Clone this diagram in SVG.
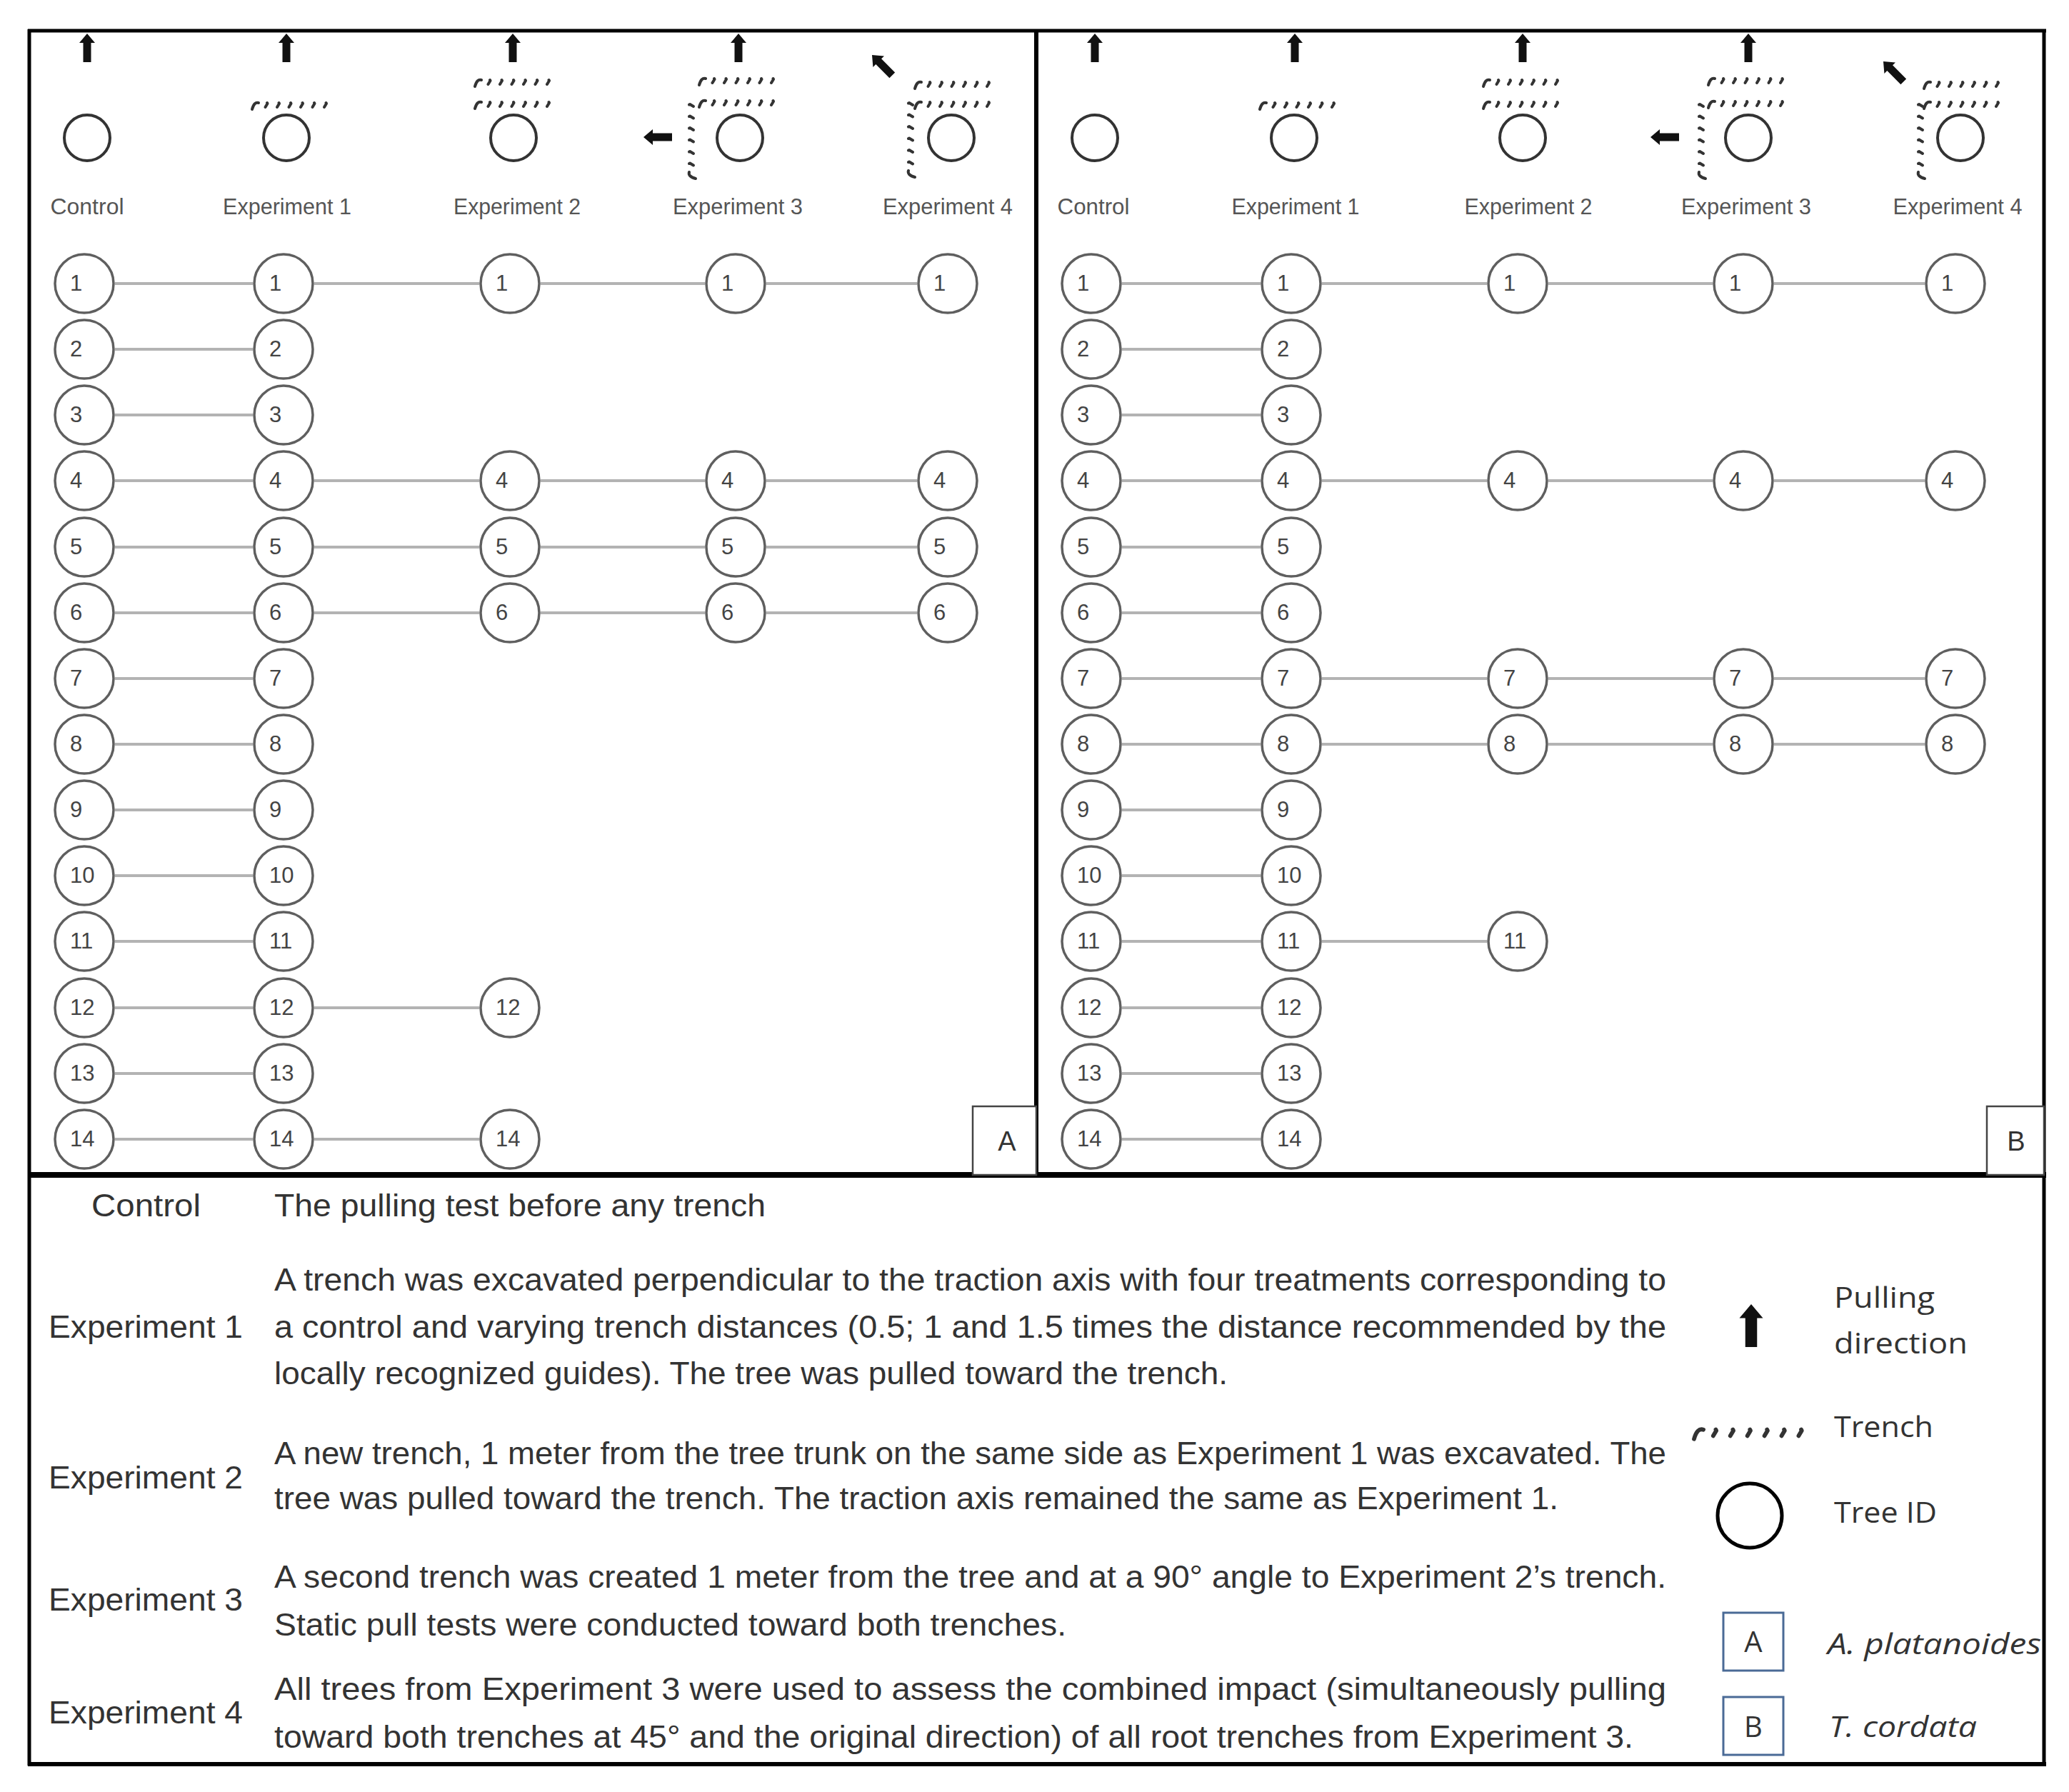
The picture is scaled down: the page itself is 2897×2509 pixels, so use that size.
<svg xmlns="http://www.w3.org/2000/svg" xmlns:xlink="http://www.w3.org/1999/xlink" width="2897" height="2509" viewBox="0 0 2897 2509">
<style>
.node circle{fill:#fff;stroke:#5f5f5f;stroke-width:3.5}
.node text{font-family:"Liberation Sans",Arial,sans-serif;font-size:31px;fill:#444}
.conn line{stroke:#b3b3b3;stroke-width:4}
.hc{fill:none;stroke:#333;stroke-width:4}
.hl{font-family:"Liberation Sans",Arial,sans-serif;font-size:31px;fill:#555;text-anchor:middle}
.lt{font-family:"Liberation Sans",Arial,sans-serif;font-size:45px;fill:#333}
.rt{font-family:"Open Sans","Liberation Sans",sans-serif;font-size:40px;fill:#333}
.frame{stroke:#000;fill:none}
.tr{fill:none;stroke:#333;stroke-width:4;stroke-linecap:round;stroke-linejoin:round}
</style>
<defs>
<path id="arr" d="M0,0 L11,13 L5.5,13 L5.5,40 L-5.5,40 L-5.5,13 L-11,13 Z" fill="#111"/>
<path id="trench" class="tr" d="M0,6 Q3,-5 9,-3 M21,-3 l0.5,1 l-3,5 M37.5,-3 l0.5,1 l-3,5 M54,-3 l0.5,1 l-3,5 M70.5,-3 l0.5,1 l-3,5 M87,-3 l0.5,1 l-3,5 M103.5,-3 l0.5,1 l-3,5"/>
</defs>
<rect x="0" y="0" width="2897" height="2509" fill="#fff"/>

<!-- Frames -->
<g id="frames">
<line class="frame" x1="39" y1="43" x2="2865" y2="43" stroke-width="5"/>
<line class="frame" x1="41" y1="41" x2="41" y2="2472" stroke-width="5"/>
<line class="frame" x1="2862" y1="41" x2="2862" y2="2472" stroke-width="5"/>
<line class="frame" x1="39" y1="2470" x2="2865" y2="2470" stroke-width="6"/>
<line class="frame" x1="1451" y1="43" x2="1451" y2="1645" stroke-width="6"/>
<line class="frame" x1="39" y1="1645" x2="2865" y2="1645" stroke-width="8"/>
</g>

<!-- Panel A header -->
<g id="A-header">
<use xlink:href="#arr" transform="translate(122,47)"/>
<use xlink:href="#arr" transform="translate(401,47)"/>
<use xlink:href="#arr" transform="translate(718,47)"/>
<use xlink:href="#arr" transform="translate(1034,47)"/>
<use xlink:href="#arr" transform="translate(901,192) rotate(-90)"/>
<use xlink:href="#arr" transform="translate(1221,77) rotate(-45)"/>
<circle class="hc" cx="122" cy="193" r="32"/>
<circle class="hc" cx="401" cy="193" r="32"/>
<circle class="hc" cx="719" cy="193" r="32"/>
<circle class="hc" cx="1036" cy="193" r="32"/>
<circle class="hc" cx="1332" cy="193" r="32"/>
<use xlink:href="#trench" transform="translate(353,147)"/>
<use xlink:href="#trench" transform="translate(665,115)"/>
<use xlink:href="#trench" transform="translate(665,146)"/>
<use xlink:href="#trench" transform="translate(979,113)"/>
<use xlink:href="#trench" transform="translate(979,144)"/>
<use xlink:href="#trench" transform="translate(968,250) rotate(-90)"/>
<use xlink:href="#trench" transform="translate(1281,118)"/>
<use xlink:href="#trench" transform="translate(1281,146)"/>
<use xlink:href="#trench" transform="translate(1275,248) rotate(-90)"/>
<text class="hl" x="122" y="300" textLength="103" lengthAdjust="spacingAndGlyphs">Control</text>
<text class="hl" x="402" y="300" textLength="180" lengthAdjust="spacingAndGlyphs">Experiment 1</text>
<text class="hl" x="724" y="300" textLength="178" lengthAdjust="spacingAndGlyphs">Experiment 2</text>
<text class="hl" x="1033" y="300" textLength="182" lengthAdjust="spacingAndGlyphs">Experiment 3</text>
<text class="hl" x="1327" y="300" textLength="182" lengthAdjust="spacingAndGlyphs">Experiment 4</text>
</g>

<!-- Panel B header -->
<g id="B-header">
<use xlink:href="#arr" transform="translate(1533,47)"/>
<use xlink:href="#arr" transform="translate(1813,47)"/>
<use xlink:href="#arr" transform="translate(2132,47)"/>
<use xlink:href="#arr" transform="translate(2448,47)"/>
<use xlink:href="#arr" transform="translate(2311,192) rotate(-90)"/>
<use xlink:href="#arr" transform="translate(2637,86) rotate(-45)"/>
<circle class="hc" cx="1533" cy="193" r="32"/>
<circle class="hc" cx="1812" cy="193" r="32"/>
<circle class="hc" cx="2132" cy="193" r="32"/>
<circle class="hc" cx="2448" cy="193" r="32"/>
<circle class="hc" cx="2745" cy="193" r="32"/>
<use xlink:href="#trench" transform="translate(1764,147)"/>
<use xlink:href="#trench" transform="translate(2077,115)"/>
<use xlink:href="#trench" transform="translate(2077,146)"/>
<use xlink:href="#trench" transform="translate(2392,113)"/>
<use xlink:href="#trench" transform="translate(2392,145)"/>
<use xlink:href="#trench" transform="translate(2382,250) rotate(-90)"/>
<use xlink:href="#trench" transform="translate(2694,118)"/>
<use xlink:href="#trench" transform="translate(2694,146)"/>
<use xlink:href="#trench" transform="translate(2689,250) rotate(-90)"/>
<text class="hl" x="1531" y="300" textLength="101" lengthAdjust="spacingAndGlyphs">Control</text>
<text class="hl" x="1814" y="300" textLength="179" lengthAdjust="spacingAndGlyphs">Experiment 1</text>
<text class="hl" x="2140" y="300" textLength="179" lengthAdjust="spacingAndGlyphs">Experiment 2</text>
<text class="hl" x="2445" y="300" textLength="182" lengthAdjust="spacingAndGlyphs">Experiment 3</text>
<text class="hl" x="2741" y="300" textLength="181" lengthAdjust="spacingAndGlyphs">Experiment 4</text>
</g>

<!-- Connectors -->
<g id="connectors" class="conn">
<line x1="161" y1="397" x2="354" y2="397"/><line x1="440" y1="397" x2="671" y2="397"/><line x1="757" y1="397" x2="987" y2="397"/><line x1="1073" y1="397" x2="1284" y2="397"/>
<line x1="161" y1="489" x2="354" y2="489"/>
<line x1="161" y1="581" x2="354" y2="581"/>
<line x1="161" y1="673" x2="354" y2="673"/><line x1="440" y1="673" x2="671" y2="673"/><line x1="757" y1="673" x2="987" y2="673"/><line x1="1073" y1="673" x2="1284" y2="673"/>
<line x1="161" y1="766" x2="354" y2="766"/><line x1="440" y1="766" x2="671" y2="766"/><line x1="757" y1="766" x2="987" y2="766"/><line x1="1073" y1="766" x2="1284" y2="766"/>
<line x1="161" y1="858" x2="354" y2="858"/><line x1="440" y1="858" x2="671" y2="858"/><line x1="757" y1="858" x2="987" y2="858"/><line x1="1073" y1="858" x2="1284" y2="858"/>
<line x1="161" y1="950" x2="354" y2="950"/>
<line x1="161" y1="1042" x2="354" y2="1042"/>
<line x1="161" y1="1134" x2="354" y2="1134"/>
<line x1="161" y1="1226" x2="354" y2="1226"/>
<line x1="161" y1="1318" x2="354" y2="1318"/>
<line x1="161" y1="1411" x2="354" y2="1411"/><line x1="440" y1="1411" x2="671" y2="1411"/>
<line x1="161" y1="1503" x2="354" y2="1503"/>
<line x1="161" y1="1595" x2="354" y2="1595"/><line x1="440" y1="1595" x2="671" y2="1595"/>

<line x1="1571" y1="397" x2="1765" y2="397"/><line x1="1851" y1="397" x2="2082" y2="397"/><line x1="2168" y1="397" x2="2398" y2="397"/><line x1="2484" y1="397" x2="2695" y2="397"/>
<line x1="1571" y1="489" x2="1765" y2="489"/>
<line x1="1571" y1="581" x2="1765" y2="581"/>
<line x1="1571" y1="673" x2="1765" y2="673"/><line x1="1851" y1="673" x2="2082" y2="673"/><line x1="2168" y1="673" x2="2398" y2="673"/><line x1="2484" y1="673" x2="2695" y2="673"/>
<line x1="1571" y1="766" x2="1765" y2="766"/>
<line x1="1571" y1="858" x2="1765" y2="858"/>
<line x1="1571" y1="950" x2="1765" y2="950"/><line x1="1851" y1="950" x2="2082" y2="950"/><line x1="2168" y1="950" x2="2398" y2="950"/><line x1="2484" y1="950" x2="2695" y2="950"/>
<line x1="1571" y1="1042" x2="1765" y2="1042"/><line x1="1851" y1="1042" x2="2082" y2="1042"/><line x1="2168" y1="1042" x2="2398" y2="1042"/><line x1="2484" y1="1042" x2="2695" y2="1042"/>
<line x1="1571" y1="1134" x2="1765" y2="1134"/>
<line x1="1571" y1="1226" x2="1765" y2="1226"/>
<line x1="1571" y1="1318" x2="1765" y2="1318"/><line x1="1851" y1="1318" x2="2082" y2="1318"/>
<line x1="1571" y1="1411" x2="1765" y2="1411"/>
<line x1="1571" y1="1503" x2="1765" y2="1503"/>
<line x1="1571" y1="1595" x2="1765" y2="1595"/>
</g>

<!-- Panel A nodes -->
<g id="A-nodes">
<g class="node" id="A-ctl-1" transform="translate(118,397)"><circle r="41"/><text x="-20" y="10">1</text></g>
<g class="node" id="A-ctl-2" transform="translate(118,489)"><circle r="41"/><text x="-20" y="10">2</text></g>
<g class="node" id="A-ctl-3" transform="translate(118,581)"><circle r="41"/><text x="-20" y="10">3</text></g>
<g class="node" id="A-ctl-4" transform="translate(118,673)"><circle r="41"/><text x="-20" y="10">4</text></g>
<g class="node" id="A-ctl-5" transform="translate(118,766)"><circle r="41"/><text x="-20" y="10">5</text></g>
<g class="node" id="A-ctl-6" transform="translate(118,858)"><circle r="41"/><text x="-20" y="10">6</text></g>
<g class="node" id="A-ctl-7" transform="translate(118,950)"><circle r="41"/><text x="-20" y="10">7</text></g>
<g class="node" id="A-ctl-8" transform="translate(118,1042)"><circle r="41"/><text x="-20" y="10">8</text></g>
<g class="node" id="A-ctl-9" transform="translate(118,1134)"><circle r="41"/><text x="-20" y="10">9</text></g>
<g class="node" id="A-ctl-10" transform="translate(118,1226)"><circle r="41"/><text x="-20" y="10">10</text></g>
<g class="node" id="A-ctl-11" transform="translate(118,1318)"><circle r="41"/><text x="-20" y="10">11</text></g>
<g class="node" id="A-ctl-12" transform="translate(118,1411)"><circle r="41"/><text x="-20" y="10">12</text></g>
<g class="node" id="A-ctl-13" transform="translate(118,1503)"><circle r="41"/><text x="-20" y="10">13</text></g>
<g class="node" id="A-ctl-14" transform="translate(118,1595)"><circle r="41"/><text x="-20" y="10">14</text></g>

<g class="node" id="A-e1-1" transform="translate(397,397)"><circle r="41"/><text x="-20" y="10">1</text></g>
<g class="node" id="A-e1-2" transform="translate(397,489)"><circle r="41"/><text x="-20" y="10">2</text></g>
<g class="node" id="A-e1-3" transform="translate(397,581)"><circle r="41"/><text x="-20" y="10">3</text></g>
<g class="node" id="A-e1-4" transform="translate(397,673)"><circle r="41"/><text x="-20" y="10">4</text></g>
<g class="node" id="A-e1-5" transform="translate(397,766)"><circle r="41"/><text x="-20" y="10">5</text></g>
<g class="node" id="A-e1-6" transform="translate(397,858)"><circle r="41"/><text x="-20" y="10">6</text></g>
<g class="node" id="A-e1-7" transform="translate(397,950)"><circle r="41"/><text x="-20" y="10">7</text></g>
<g class="node" id="A-e1-8" transform="translate(397,1042)"><circle r="41"/><text x="-20" y="10">8</text></g>
<g class="node" id="A-e1-9" transform="translate(397,1134)"><circle r="41"/><text x="-20" y="10">9</text></g>
<g class="node" id="A-e1-10" transform="translate(397,1226)"><circle r="41"/><text x="-20" y="10">10</text></g>
<g class="node" id="A-e1-11" transform="translate(397,1318)"><circle r="41"/><text x="-20" y="10">11</text></g>
<g class="node" id="A-e1-12" transform="translate(397,1411)"><circle r="41"/><text x="-20" y="10">12</text></g>
<g class="node" id="A-e1-13" transform="translate(397,1503)"><circle r="41"/><text x="-20" y="10">13</text></g>
<g class="node" id="A-e1-14" transform="translate(397,1595)"><circle r="41"/><text x="-20" y="10">14</text></g>

<g class="node" id="A-e2-1" transform="translate(714,397)"><circle r="41"/><text x="-20" y="10">1</text></g>
<g class="node" id="A-e2-4" transform="translate(714,673)"><circle r="41"/><text x="-20" y="10">4</text></g>
<g class="node" id="A-e2-5" transform="translate(714,766)"><circle r="41"/><text x="-20" y="10">5</text></g>
<g class="node" id="A-e2-6" transform="translate(714,858)"><circle r="41"/><text x="-20" y="10">6</text></g>
<g class="node" id="A-e2-12" transform="translate(714,1411)"><circle r="41"/><text x="-20" y="10">12</text></g>
<g class="node" id="A-e2-14" transform="translate(714,1595)"><circle r="41"/><text x="-20" y="10">14</text></g>

<g class="node" id="A-e3-1" transform="translate(1030,397)"><circle r="41"/><text x="-20" y="10">1</text></g>
<g class="node" id="A-e3-4" transform="translate(1030,673)"><circle r="41"/><text x="-20" y="10">4</text></g>
<g class="node" id="A-e3-5" transform="translate(1030,766)"><circle r="41"/><text x="-20" y="10">5</text></g>
<g class="node" id="A-e3-6" transform="translate(1030,858)"><circle r="41"/><text x="-20" y="10">6</text></g>

<g class="node" id="A-e4-1" transform="translate(1327,397)"><circle r="41"/><text x="-20" y="10">1</text></g>
<g class="node" id="A-e4-4" transform="translate(1327,673)"><circle r="41"/><text x="-20" y="10">4</text></g>
<g class="node" id="A-e4-5" transform="translate(1327,766)"><circle r="41"/><text x="-20" y="10">5</text></g>
<g class="node" id="A-e4-6" transform="translate(1327,858)"><circle r="41"/><text x="-20" y="10">6</text></g>
</g>

<!-- Panel B nodes -->
<g id="B-nodes">
<g class="node" id="B-ctl-1" transform="translate(1528,397)"><circle r="41"/><text x="-20" y="10">1</text></g>
<g class="node" id="B-ctl-2" transform="translate(1528,489)"><circle r="41"/><text x="-20" y="10">2</text></g>
<g class="node" id="B-ctl-3" transform="translate(1528,581)"><circle r="41"/><text x="-20" y="10">3</text></g>
<g class="node" id="B-ctl-4" transform="translate(1528,673)"><circle r="41"/><text x="-20" y="10">4</text></g>
<g class="node" id="B-ctl-5" transform="translate(1528,766)"><circle r="41"/><text x="-20" y="10">5</text></g>
<g class="node" id="B-ctl-6" transform="translate(1528,858)"><circle r="41"/><text x="-20" y="10">6</text></g>
<g class="node" id="B-ctl-7" transform="translate(1528,950)"><circle r="41"/><text x="-20" y="10">7</text></g>
<g class="node" id="B-ctl-8" transform="translate(1528,1042)"><circle r="41"/><text x="-20" y="10">8</text></g>
<g class="node" id="B-ctl-9" transform="translate(1528,1134)"><circle r="41"/><text x="-20" y="10">9</text></g>
<g class="node" id="B-ctl-10" transform="translate(1528,1226)"><circle r="41"/><text x="-20" y="10">10</text></g>
<g class="node" id="B-ctl-11" transform="translate(1528,1318)"><circle r="41"/><text x="-20" y="10">11</text></g>
<g class="node" id="B-ctl-12" transform="translate(1528,1411)"><circle r="41"/><text x="-20" y="10">12</text></g>
<g class="node" id="B-ctl-13" transform="translate(1528,1503)"><circle r="41"/><text x="-20" y="10">13</text></g>
<g class="node" id="B-ctl-14" transform="translate(1528,1595)"><circle r="41"/><text x="-20" y="10">14</text></g>

<g class="node" id="B-e1-1" transform="translate(1808,397)"><circle r="41"/><text x="-20" y="10">1</text></g>
<g class="node" id="B-e1-2" transform="translate(1808,489)"><circle r="41"/><text x="-20" y="10">2</text></g>
<g class="node" id="B-e1-3" transform="translate(1808,581)"><circle r="41"/><text x="-20" y="10">3</text></g>
<g class="node" id="B-e1-4" transform="translate(1808,673)"><circle r="41"/><text x="-20" y="10">4</text></g>
<g class="node" id="B-e1-5" transform="translate(1808,766)"><circle r="41"/><text x="-20" y="10">5</text></g>
<g class="node" id="B-e1-6" transform="translate(1808,858)"><circle r="41"/><text x="-20" y="10">6</text></g>
<g class="node" id="B-e1-7" transform="translate(1808,950)"><circle r="41"/><text x="-20" y="10">7</text></g>
<g class="node" id="B-e1-8" transform="translate(1808,1042)"><circle r="41"/><text x="-20" y="10">8</text></g>
<g class="node" id="B-e1-9" transform="translate(1808,1134)"><circle r="41"/><text x="-20" y="10">9</text></g>
<g class="node" id="B-e1-10" transform="translate(1808,1226)"><circle r="41"/><text x="-20" y="10">10</text></g>
<g class="node" id="B-e1-11" transform="translate(1808,1318)"><circle r="41"/><text x="-20" y="10">11</text></g>
<g class="node" id="B-e1-12" transform="translate(1808,1411)"><circle r="41"/><text x="-20" y="10">12</text></g>
<g class="node" id="B-e1-13" transform="translate(1808,1503)"><circle r="41"/><text x="-20" y="10">13</text></g>
<g class="node" id="B-e1-14" transform="translate(1808,1595)"><circle r="41"/><text x="-20" y="10">14</text></g>

<g class="node" id="B-e2-1" transform="translate(2125,397)"><circle r="41"/><text x="-20" y="10">1</text></g>
<g class="node" id="B-e2-4" transform="translate(2125,673)"><circle r="41"/><text x="-20" y="10">4</text></g>
<g class="node" id="B-e2-7" transform="translate(2125,950)"><circle r="41"/><text x="-20" y="10">7</text></g>
<g class="node" id="B-e2-8" transform="translate(2125,1042)"><circle r="41"/><text x="-20" y="10">8</text></g>
<g class="node" id="B-e2-11" transform="translate(2125,1318)"><circle r="41"/><text x="-20" y="10">11</text></g>

<g class="node" id="B-e3-1" transform="translate(2441,397)"><circle r="41"/><text x="-20" y="10">1</text></g>
<g class="node" id="B-e3-4" transform="translate(2441,673)"><circle r="41"/><text x="-20" y="10">4</text></g>
<g class="node" id="B-e3-7" transform="translate(2441,950)"><circle r="41"/><text x="-20" y="10">7</text></g>
<g class="node" id="B-e3-8" transform="translate(2441,1042)"><circle r="41"/><text x="-20" y="10">8</text></g>

<g class="node" id="B-e4-1" transform="translate(2738,397)"><circle r="41"/><text x="-20" y="10">1</text></g>
<g class="node" id="B-e4-4" transform="translate(2738,673)"><circle r="41"/><text x="-20" y="10">4</text></g>
<g class="node" id="B-e4-7" transform="translate(2738,950)"><circle r="41"/><text x="-20" y="10">7</text></g>
<g class="node" id="B-e4-8" transform="translate(2738,1042)"><circle r="41"/><text x="-20" y="10">8</text></g>
</g>

<!-- Panel labels -->
<g id="panel-A-label">
<rect x="1362" y="1549" width="89" height="96" fill="#fff" stroke="#444" stroke-width="2.5"/>
<text x="1410" y="1611" font-family="Liberation Sans, Arial, sans-serif" font-size="38" fill="#333" text-anchor="middle">A</text>
</g>
<g id="panel-B-label">
<rect x="2782" y="1549" width="80" height="96" fill="#fff" stroke="#444" stroke-width="2.5"/>
<text x="2823" y="1611" font-family="Liberation Sans, Arial, sans-serif" font-size="38" fill="#333" text-anchor="middle">B</text>
</g>

<!-- Legend: descriptions -->
<g id="legend-descriptions">
<text class="lt" x="128" y="1703" textLength="153" lengthAdjust="spacingAndGlyphs">Control</text>
<text class="lt" x="384" y="1703" textLength="688" lengthAdjust="spacingAndGlyphs">The pulling test before any trench</text>

<text class="lt" x="68" y="1873" textLength="272" lengthAdjust="spacingAndGlyphs">Experiment 1</text>
<text class="lt" x="384" y="1807" textLength="1949" lengthAdjust="spacingAndGlyphs">A trench was excavated perpendicular to the traction axis with four treatments corresponding to</text>
<text class="lt" x="384" y="1873" textLength="1949" lengthAdjust="spacingAndGlyphs">a control and varying trench distances (0.5; 1 and 1.5 times the distance recommended by the</text>
<text class="lt" x="384" y="1938" textLength="1335" lengthAdjust="spacingAndGlyphs">locally recognized guides). The tree was pulled toward the trench.</text>

<text class="lt" x="68" y="2084" textLength="272" lengthAdjust="spacingAndGlyphs">Experiment 2</text>
<text class="lt" x="384" y="2050" textLength="1949" lengthAdjust="spacingAndGlyphs">A new trench, 1 meter from the tree trunk on the same side as Experiment 1 was excavated. The</text>
<text class="lt" x="384" y="2113" textLength="1798" lengthAdjust="spacingAndGlyphs">tree was pulled toward the trench. The traction axis remained the same as Experiment 1.</text>

<text class="lt" x="68" y="2255" textLength="272" lengthAdjust="spacingAndGlyphs">Experiment 3</text>
<text class="lt" x="384" y="2223" textLength="1949" lengthAdjust="spacingAndGlyphs">A second trench was created 1 meter from the tree and at a 90° angle to Experiment 2’s trench.</text>
<text class="lt" x="384" y="2290" textLength="1109" lengthAdjust="spacingAndGlyphs">Static pull tests were conducted toward both trenches.</text>

<text class="lt" x="68" y="2413" textLength="272" lengthAdjust="spacingAndGlyphs">Experiment 4</text>
<text class="lt" x="384" y="2380" textLength="1949" lengthAdjust="spacingAndGlyphs">All trees from Experiment 3 were used to assess the combined impact (simultaneously pulling</text>
<text class="lt" x="384" y="2447" textLength="1903" lengthAdjust="spacingAndGlyphs">toward both trenches at 45° and the original direction) of all root trenches from Experiment 3.</text>
</g>

<!-- Legend: symbols -->
<g id="legend-symbols">
<use xlink:href="#arr" transform="translate(2452,1826) scale(1.5)"/>
<text class="rt" x="2568" y="1831" textLength="141" lengthAdjust="spacingAndGlyphs">Pulling</text>
<text class="rt" x="2568" y="1895" textLength="187" lengthAdjust="spacingAndGlyphs">direction</text>
<use xlink:href="#trench" transform="translate(2372,2006) scale(1.45)"/>
<text class="rt" x="2568" y="2012" textLength="139" lengthAdjust="spacingAndGlyphs">Trench</text>
<circle cx="2450" cy="2122" r="45" fill="none" stroke="#000" stroke-width="5"/>
<text class="rt" x="2568" y="2132" textLength="144" lengthAdjust="spacingAndGlyphs">Tree ID</text>
<rect x="2413" y="2258" width="84" height="81" fill="#fff" stroke="#4a6a96" stroke-width="3"/>
<text class="rt" x="2455" y="2313" text-anchor="middle">A</text>
<text class="rt" x="2559" y="2316" font-style="italic" textLength="299" lengthAdjust="spacingAndGlyphs">A. platanoides</text>
<rect x="2413" y="2376" width="84" height="81" fill="#fff" stroke="#4a6a96" stroke-width="3"/>
<text class="rt" x="2455" y="2432" text-anchor="middle">B</text>
<text class="rt" x="2561" y="2432" font-style="italic" textLength="207" lengthAdjust="spacingAndGlyphs">T. cordata</text>
</g>
</svg>
